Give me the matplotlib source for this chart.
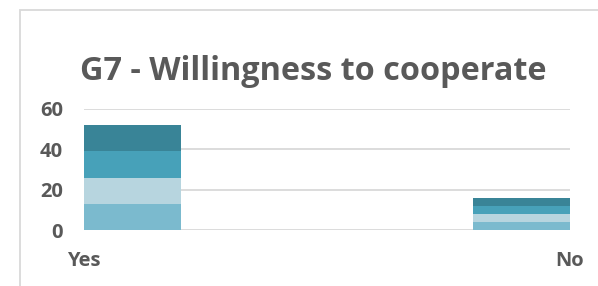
import matplotlib
matplotlib.use("Agg")
import matplotlib.pyplot as plt
import numpy as np
from matplotlib.patches import Rectangle

categories = ["Yes", "No"]
# four stacked series (bottom -> top)
series = [
    [13, 4],
    [13, 4],
    [13, 4],
    [13, 4],
]
colors = ["#7BBACE", "#B7D5DF", "#47A1B9", "#398497"]
title = "G7 - Willingness to cooperate"
yticks = [0, 20, 40, 60]

W, H, DPI = 598, 286, 100
TXT = "#595959"
plt.rcParams["font.family"] = ["Open Sans", "DejaVu Sans"]

fig = plt.figure(figsize=(W / DPI, H / DPI), dpi=DPI)
fig.patch.set_facecolor("white")

# chart frame (cropped at right/bottom)
fig.patches.append(Rectangle((20 / W, -0.1), 1.2, 1.1 - 10 / H,
                             transform=fig.transFigure, fill=False,
                             edgecolor="#D9D9D9", linewidth=1.3))

ax = fig.add_axes([84 / W, 56 / H, 486 / W, 121 / H])
x = np.arange(len(categories))
bottom = np.zeros(len(categories))
for vals, c in zip(series, colors):
    ax.bar(x, vals, width=0.25, bottom=bottom, color=c, edgecolor="none", zorder=3)
    bottom += np.array(vals)

ax.set_xlim(-0.125, 1.125)
ax.set_ylim(0, 60)
ax.set_yticks(yticks)
ax.set_yticklabels([str(v) for v in yticks], fontsize=14.5, fontweight="bold", color=TXT)
ax.set_xticks([-0.125, 1.125])
ax.set_xticklabels(categories, fontsize=14.5, fontweight="bold", color=TXT)
ax.tick_params(axis="y", length=0, pad=15)
ax.tick_params(axis="x", length=0, pad=15)
ax.grid(axis="y", color="#D9D9D9", linewidth=1.3, zorder=0)
for s in ax.spines.values():
    s.set_visible(False)

fig.text(313 / W, 1 - 80 / H, title, ha="center", va="baseline",
         fontsize=23.3, fontweight="bold", color=TXT)

fig.savefig("out.png", dpi=DPI)
